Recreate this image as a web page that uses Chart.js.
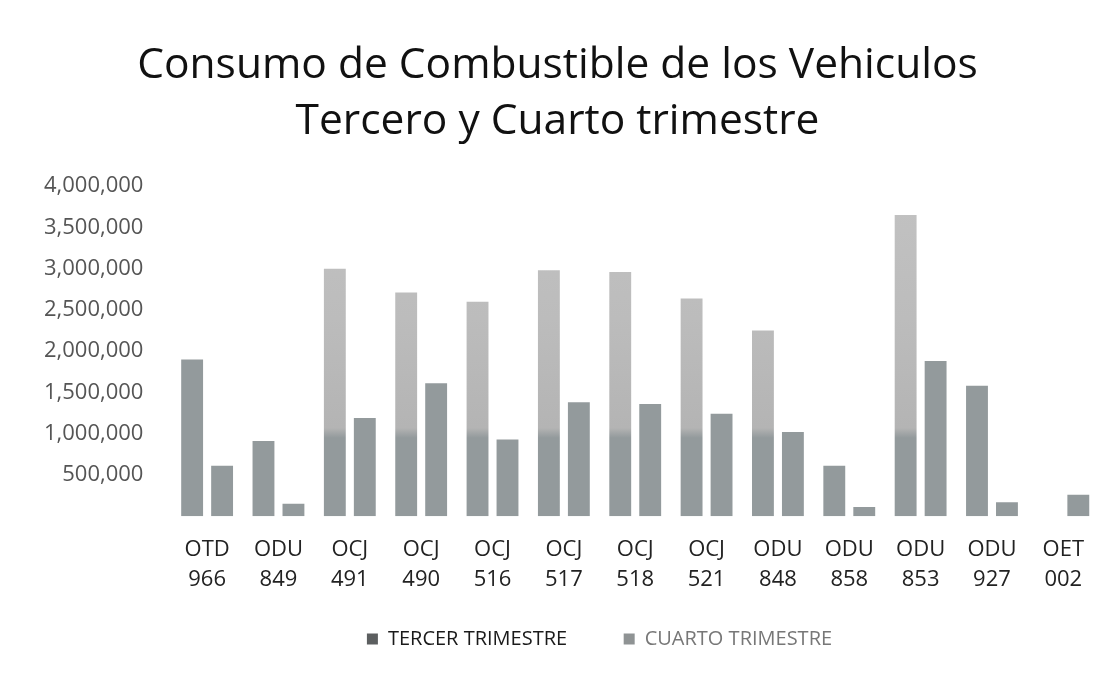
<!DOCTYPE html>
<html>
<head>
<meta charset="utf-8">
<script src="https://cdn.jsdelivr.net/npm/chart.js@4"></script>
<style>
  html, body { margin: 0; padding: 0; background: #fff; }
  #wrap { width: 1114px; height: 673px; }
</style>
</head>
<body>
<div id="wrap"><canvas id="chart" width="1114" height="673"></canvas></div>
<script>
// vehicles (two-line labels) and fuel consumption per quarter
const vehiculos = [
  ['OTD', '966'], ['ODU', '849'], ['OCJ', '491'], ['OCJ', '490'], ['OCJ', '516'],
  ['OCJ', '517'], ['OCJ', '518'], ['OCJ', '521'], ['ODU', '848'], ['ODU', '858'],
  ['ODU', '853'], ['ODU', '927'], ['OET', '002']
];
const tercerTrimestre = [1900000, 910000, 3000000, 2710000, 2600000, 2980000, 2960000, 2640000, 2250000, 610000, 3650000, 1580000, 0];
const cuartoTrimestre = [610000, 150000, 1190000, 1610000, 930000, 1380000, 1360000, 1240000, 1020000, 110000, 1880000, 170000, 260000];
const yTicks = [0, 500000, 1000000, 1500000, 2000000, 2500000, 3000000, 3500000, 4000000];

const darkGray = '#939a9c';
const lightGray = '#bcbcbc';
const FONT = 'Open Sans';

// scanned look: tall bars fade to light gray above ~950k
function tercerColor(ctx) {
  const chart = ctx.chart;
  const area = chart.chartArea;
  const v = ctx.raw;
  if (!area || v == null || v < 2000000) return darkGray;
  const y = chart.scales.y;
  const bottom = y.getPixelForValue(0);
  const top = y.getPixelForValue(4000000);
  const split = y.getPixelForValue(950000);
  const g = chart.ctx.createLinearGradient(0, bottom, 0, top);
  const f = (bottom - split) / (bottom - top);
  g.addColorStop(0, darkGray);
  g.addColorStop(f, darkGray);
  g.addColorStop(Math.min(1, f + 0.03), '#b4b4b4');
  g.addColorStop(0.6, lightGray);
  g.addColorStop(1, '#c2c2c2');
  return g;
}

// legend sits a bit right of the canvas centre in the original
const legendShift = {
  id: 'legendShift',
  afterLayout(chart) {
    chart.legend.left += 42;
    chart.legend.right += 42;
  }
};

new Chart(document.getElementById('chart'), {
  type: 'bar',
  data: {
    labels: vehiculos,
    datasets: [
      {
        label: 'TERCER TRIMESTRE',
        data: tercerTrimestre,
        backgroundColor: tercerColor,
        categoryPercentage: 0.84,
        barPercentage: 0.73
      },
      {
        label: 'CUARTO TRIMESTRE',
        data: cuartoTrimestre,
        backgroundColor: darkGray,
        categoryPercentage: 0.84,
        barPercentage: 0.73
      }
    ]
  },
  options: {
    responsive: false,
    animation: false,
    layout: { padding: { left: 16, right: 15, top: 0, bottom: 14 } },
    plugins: {
      title: {
        display: true,
        text: ['Consumo de Combustible de los Vehiculos', 'Tercero y Cuarto trimestre'],
        color: '#111',
        font: { family: FONT, size: 42.5, weight: 'normal', lineHeight: 1.32 },
        padding: { top: 38, bottom: 36 }
      },
      legend: {
        position: 'bottom',
        labels: {
          font: { family: FONT, size: 20 },
          usePointStyle: true,
          pointStyle: 'rect',
          boxWidth: 11,
          boxHeight: 11,
          padding: 15,
          generateLabels(chart) {
            const items = Chart.defaults.plugins.legend.labels.generateLabels(chart);
            items[0].text += '\u00a0'.repeat(8);
            items[0].fillStyle = '#5c5f60';
            items[0].fontColor = '#1a1a1a';
            items[1].fillStyle = '#8f9394';
            items[1].fontColor = '#777';
            items.forEach(it => { it.strokeStyle = 'transparent'; it.lineWidth = 0; });
            return items;
          }
        }
      },
      tooltip: { enabled: false }
    },
    scales: {
      x: {
        grid: { display: false, tickLength: 0 },
        border: { display: false },
        ticks: {
          color: '#222',
          font: { family: FONT, size: 22, lineHeight: 1.36 },
          maxRotation: 0,
          padding: 19
        }
      },
      y: {
        min: 0,
        max: 4000000,
        afterBuildTicks: axis => { axis.ticks = yTicks.map(v => ({ value: v })); },
        grid: { display: false, tickLength: 0 },
        border: { display: false },
        ticks: {
          color: '#555',
          font: { family: FONT, size: 22 },
          padding: 28,
          callback: v => v === 0 ? '' : v.toLocaleString('en-US')
        }
      }
    }
  },
  plugins: [legendShift]
});
</script>
</body>
</html>
